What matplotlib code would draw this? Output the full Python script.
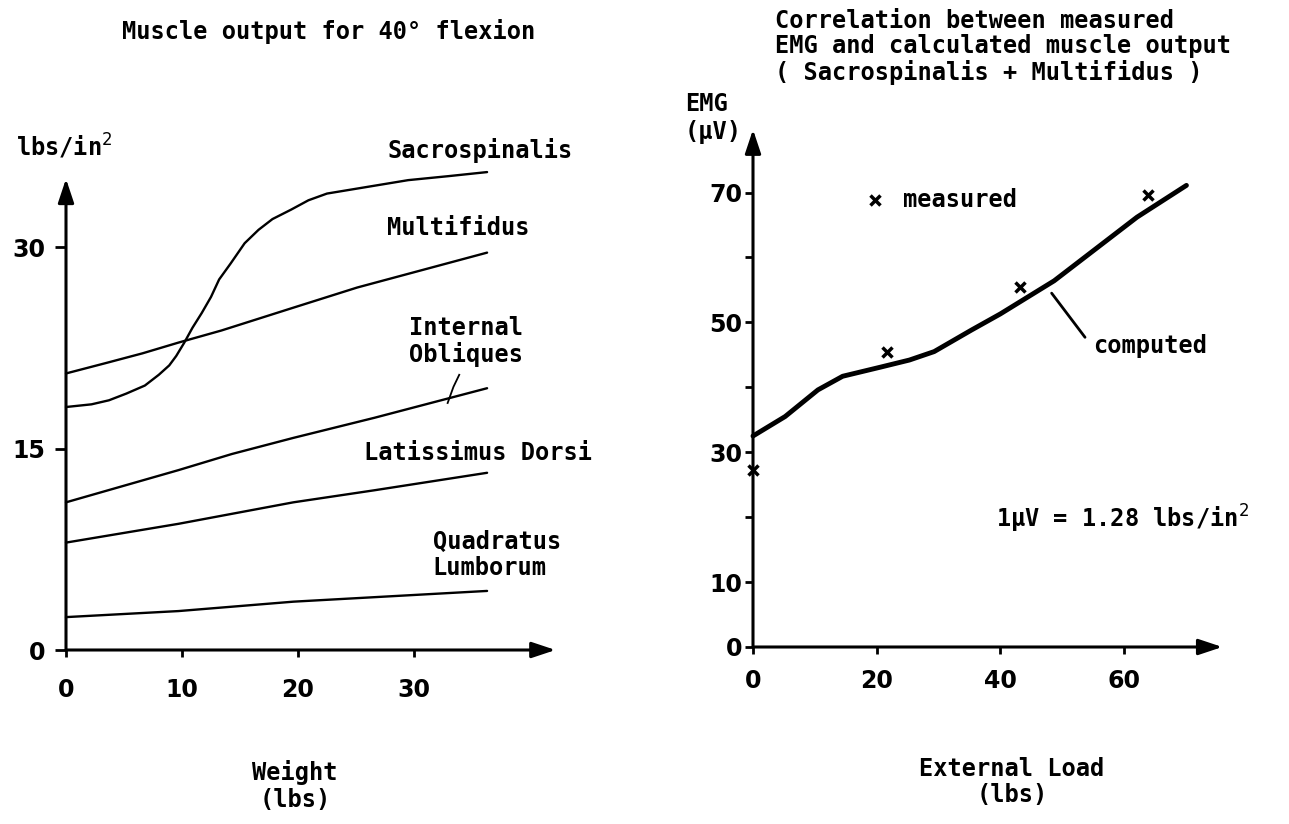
import matplotlib
matplotlib.use("Agg")
import matplotlib.pyplot as plt

W, H = 1289, 824
DPI = 100

# --- left panel: muscle output (lbs/in^2) vs weight (lbs), 40 deg flexion ---
sacro_x = [0, 2.2, 3.7, 5.2, 6.8, 8.0, 8.9, 9.5, 10.2, 10.9, 11.7, 12.5, 13.2, 14.2,
           15.4, 16.6, 17.8, 19.4, 20.9, 22.5, 26.0, 29.5, 33.0, 36.3]
sacro_y = [18.1, 18.3, 18.6, 19.1, 19.7, 20.5, 21.2, 21.9, 22.9, 24.0, 25.1, 26.3, 27.6, 28.8,
           30.3, 31.3, 32.1, 32.8, 33.5, 34.0, 34.5, 35.0, 35.3, 35.6]
multi_x = [0, 3.55, 6.6, 9.7, 13.4, 19.6, 25.1, 36.3]
multi_y = [20.6, 21.4, 22.1, 22.9, 23.8, 25.5, 27.0, 29.6]
oblq_x = [0, 9.7, 14.3, 19.6, 26.6, 36.3]
oblq_y = [11.0, 13.4, 14.6, 15.8, 17.3, 19.5]
latd_x = [0, 9.7, 19.6, 26.6, 36.3]
latd_y = [8.0, 9.4, 11.0, 11.9, 13.2]
quad_x = [0, 9.7, 19.6, 36.3]
quad_y = [2.45, 2.9, 3.6, 4.4]

weight_ticks = [0, 10, 20, 30]
output_ticks = [0, 15, 30]

# --- right panel: EMG (uV) vs external load (lbs) ---
computed_x = [0, 5.2, 10.5, 14.5, 20.6, 25.3, 29.3, 35.3, 40.0, 48.7, 55.4, 62.1, 70.1]
computed_y = [32.5, 35.5, 39.6, 41.7, 43.1, 44.2, 45.5, 48.8, 51.3, 56.4, 61.3, 66.2, 71.1]
measured_x = [0, 21.7, 43.2, 63.9]
measured_y = [27.3, 45.4, 55.4, 69.6]

load_ticks = [0, 20, 40, 60]
emg_ticks = [0, 10, 20, 30, 40, 50, 60, 70]
emg_labels = ["0", "10", "", "30", "", "50", "", "70"]

TXT = dict(family="DejaVu Sans Mono", fontsize=17, fontweight="bold", color="black")


def px_axes(fig, left, top, right, bottom):
    # axes box given in pixels of the final image
    return fig.add_axes([left / W, 1 - bottom / H, (right - left) / W, (bottom - top) / H])


def arrow_axes(ax, xmax, ymax):
    for sp in ax.spines.values():
        sp.set_visible(False)
    kw = dict(arrowstyle="-|>,head_length=0.9,head_width=0.3", lw=2.2, color="black",
              shrinkA=0, shrinkB=0, mutation_scale=16)
    ax.annotate("", xy=(xmax, 0), xytext=(0, 0), arrowprops=kw, annotation_clip=False)
    ax.annotate("", xy=(0, ymax), xytext=(0, 0), arrowprops=kw, annotation_clip=False)


def style_ticks(ax, xpad, ypad, ylen):
    ax.tick_params(axis="x", direction="out", length=5, width=2, pad=xpad)
    ax.tick_params(axis="y", direction="out", length=ylen, width=2, pad=ypad)
    for lab in ax.get_xticklabels() + ax.get_yticklabels():
        lab.set_family("DejaVu Sans")
        lab.set_fontsize(17)
        lab.set_fontweight("bold")


fig = plt.figure(figsize=(W / DPI, H / DPI), dpi=DPI)
fig.patch.set_facecolor("white")

# left panel
ax1 = px_axes(fig, 66, 160, 559, 650)
ax1.set_xlim(0, 42.5)
ax1.set_ylim(0, 36.5)
ax1.patch.set_alpha(0)
arrow_axes(ax1, 42.2, 35.1)
for xs, ys in [(sacro_x, sacro_y), (multi_x, multi_y), (oblq_x, oblq_y),
               (latd_x, latd_y), (quad_x, quad_y)]:
    ax1.plot(xs, ys, color="black", lw=1.7, clip_on=False,
             solid_capstyle="round", solid_joinstyle="round")
ax1.set_xticks(weight_ticks)
ax1.set_yticks(output_ticks)
style_ticks(ax1, xpad=15, ypad=7, ylen=8)

ax1.text(27.7, 37.2, "Sacrospinalis", ha="left", va="center", **TXT)
ax1.text(27.7, 31.4, "Multifidus", ha="left", va="center", **TXT)
ax1.text(34.5, 23.0, "Internal\nObliques", ha="center", va="center",
         linespacing=1.1, **TXT)
ax1.plot([33.9, 33.4, 32.9], [20.5, 19.6, 18.4], color="black", lw=1.3, clip_on=False)
ax1.text(25.7, 14.7, "Latissimus Dorsi", ha="left", va="center", **TXT)
ax1.text(31.6, 7.1, "Quadratus\nLumborum", ha="left", va="center",
         linespacing=1.1, **TXT)
ax1.text(-4.3, 37.5, "lbs/in$^2$", ha="left", va="center", **TXT)

fig.text(329 / W, 1 - 32 / H, "Muscle output for 40° flexion", ha="center", va="center", **TXT)
fig.text(295 / W, 1 - 786 / H, "Weight\n(lbs)", ha="center", va="center",
         linespacing=1.15, **TXT)

# right panel
ax2 = px_axes(fig, 753, 125, 1226, 647)
ax2.set_xlim(0, 76.5)
ax2.set_ylim(0, 80.4)
ax2.patch.set_alpha(0)
arrow_axes(ax2, 75.9, 79.7)
ax2.plot(computed_x, computed_y, color="black", lw=3.5, clip_on=False,
         solid_capstyle="round", solid_joinstyle="round")
ax2.plot(measured_x, measured_y, ls="none", marker="x", ms=7, mew=2.5,
         color="black", clip_on=False)
ax2.set_xticks(load_ticks)
ax2.set_yticks(emg_ticks)
ax2.set_yticklabels(emg_labels)
style_ticks(ax2, xpad=11, ypad=2, ylen=6)

ax2.plot([19.7], [68.8], ls="none", marker="x", ms=7, mew=2.5, color="black")
ax2.text(24.3, 68.8, "measured", ha="left", va="center", **TXT)
ax2.annotate("", xy=(48.3, 54.5), xytext=(53.7, 47.7),
             arrowprops=dict(arrowstyle="-", lw=2, color="black", shrinkA=0, shrinkB=0))
ax2.text(55.0, 46.4, "computed", ha="left", va="center", **TXT)
ax2.text(39.3, 19.7, "1μV = 1.28 lbs/in$^2$", ha="left", va="center", **TXT)
ax2.text(-11.0, 81.5, "EMG\n(μV)", ha="left", va="center", linespacing=1.2, **TXT)

fig.text(775 / W, 1 - 47 / H,
         "Correlation between measured\nEMG and calculated muscle output\n( Sacrospinalis + Multifidus )",
         ha="left", va="center", linespacing=1.1, **TXT)
fig.text(1012 / W, 1 - 782 / H, "External Load\n(lbs)", ha="center", va="center",
         linespacing=1.15, **TXT)

fig.savefig("out.png", dpi=DPI, facecolor="white")
